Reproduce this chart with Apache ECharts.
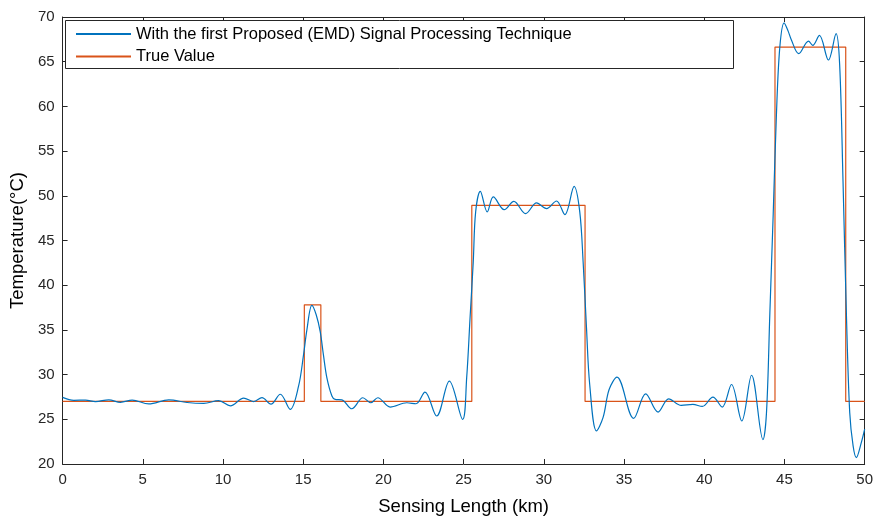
<!DOCTYPE html>
<html>
<head>
<meta charset="utf-8">
<script src="https://cdn.jsdelivr.net/npm/echarts@6/dist/echarts.min.js"></script>
<style>
  html, body { margin: 0; padding: 0; background: #fff; }
  #chart { width: 876px; height: 521px; }
</style>
</head>
<body>
<div id="chart"></div>
<script>
// Distance along the fibre (km) and recovered temperature after EMD processing
const blueKm = [0, 0.70, 1.43, 2.05, 2.88, 3.61, 4.34, 5.37, 6.62, 7.76, 8.80, 9.73, 10.46, 11.29, 11.91, 12.43, 12.99, 13.57, 14.19, 14.71, 15.02, 15.23, 15.54, 15.81, 16.06, 16.26, 16.48, 16.79, 16.99, 17.41, 18.03, 18.72, 19.21, 19.65, 20.42, 21.46, 22.03, 22.59, 23.32, 24.11, 24.94, 25.19, 25.40, 25.60, 25.75, 26.04, 26.47, 26.85, 27.53, 28.13, 28.86, 29.55, 30.17, 30.79, 31.31, 31.89, 32.24, 32.45, 32.66, 32.86, 33.28, 33.69, 34.07, 34.56, 35.60, 36.35, 37.12, 37.78, 38.57, 39.29, 39.88, 40.54, 41.12, 41.70, 42.34, 42.95, 43.66, 43.88, 44.09, 44.30, 44.50, 44.71, 44.98, 45.23, 45.42, 45.89, 46.50, 46.76, 47.18, 47.74, 48.22, 48.44, 48.65, 48.86, 49.07, 49.28, 49.48, 49.79, 50.0];
const blueTemp = [27.45, 27.12, 27.15, 26.98, 27.18, 26.90, 27.15, 26.72, 27.18, 26.88, 26.78, 27.08, 26.50, 27.37, 26.98, 27.42, 26.70, 27.80, 26.12, 28.70, 32.20, 35.00, 37.75, 36.70, 34.80, 32.20, 29.60, 27.60, 27.22, 27.18, 26.18, 27.41, 26.85, 27.41, 26.37, 26.85, 26.74, 28.04, 25.37, 29.27, 24.99, 29.63, 36.30, 42.60, 48.20, 50.49, 48.20, 49.87, 48.45, 49.38, 48.01, 49.20, 48.56, 49.42, 47.90, 51.05, 48.20, 42.60, 35.20, 28.90, 23.70, 25.18, 28.33, 29.71, 25.10, 27.85, 25.81, 27.29, 26.55, 26.66, 26.44, 27.48, 26.37, 28.89, 24.81, 29.93, 22.73, 25.73, 36.87, 48.00, 59.10, 66.60, 69.35, 68.42, 67.49, 65.90, 67.30, 66.83, 67.94, 65.19, 68.13, 64.71, 51.70, 36.87, 25.73, 22.03, 20.72, 22.39, 23.90];

// True temperature profile: level changes at each breakpoint
const trueKm = [0, 15.07, 16.10, 25.51, 32.57, 44.41, 48.82, 50];
const trueTemp = [27, 37.8, 27, 48.93, 27, 66.64, 27, 27];

// Axis tick values
const xTicks = [0, 5, 10, 15, 20, 25, 30, 35, 40, 45, 50];
const yTicks = [20, 25, 30, 35, 40, 45, 50, 55, 60, 65, 70];

const seriesNames = ['With the first Proposed (EMD) Signal Processing Technique', 'True Value'];

const blueData = blueKm.map((x, i) => [x, blueTemp[i]]);
const trueData = trueKm.map((x, i) => [x, trueTemp[i]]);

const axisColor = '#262626';
const font = 'Liberation Sans, Arial, Helvetica, sans-serif';

const chart = echarts.init(document.getElementById('chart'), null, { renderer: 'canvas' });

const xBase = {
  type: 'value',
  min: xTicks[0],
  max: xTicks[xTicks.length - 1],
  interval: xTicks[1] - xTicks[0],
  splitLine: { show: false },
  axisLine: { show: true, onZero: false, lineStyle: { color: axisColor, width: 1 } },
  axisTick: { show: true, inside: true, length: 5, lineStyle: { color: axisColor } }
};
const yBase = {
  type: 'value',
  min: yTicks[0],
  max: yTicks[yTicks.length - 1],
  interval: yTicks[1] - yTicks[0],
  splitLine: { show: false },
  axisLine: { show: true, onZero: false, lineStyle: { color: axisColor, width: 1 } },
  axisTick: { show: true, inside: true, length: 5, lineStyle: { color: axisColor } }
};

chart.setOption({
  animation: false,
  backgroundColor: '#fff',
  grid: { left: 62, right: 11, top: 17, bottom: 54, containLabel: false },
  xAxis: [
    Object.assign({}, xBase, {
      position: 'bottom',
      name: 'Sensing Length (km)',
      nameLocation: 'middle',
      nameGap: 33,
      nameTextStyle: { fontFamily: font, fontSize: 18.5, color: '#000' },
      axisLabel: { fontFamily: font, fontSize: 15, color: '#262626', margin: 8 }
    }),
    Object.assign({}, xBase, {
      position: 'top',
      axisLabel: { show: false }
    })
  ],
  yAxis: [
    Object.assign({}, yBase, {
      position: 'left',
      name: 'Temperature(°C)',
      nameLocation: 'middle',
      nameGap: 35,
      nameRotate: 90,
      nameTextStyle: { fontFamily: font, fontSize: 18.5, color: '#000' },
      axisLabel: { fontFamily: font, fontSize: 15, color: '#262626', margin: 8 }
    }),
    Object.assign({}, yBase, {
      position: 'right',
      axisLabel: { show: false }
    })
  ],
  graphic: [{
    type: 'rect',
    shape: { x: 65.5, y: 20.5, width: 668, height: 48 },
    style: { fill: '#fff', stroke: axisColor, lineWidth: 1 },
    z: 3
  }],
  legend: {
    orient: 'vertical',
    left: 75,
    top: 25,
    padding: 0,
    itemWidth: 55,
    itemHeight: 18,
    itemGap: 4.5,
    itemStyle: { color: 'rgba(0,0,0,0)', borderColor: 'rgba(0,0,0,0)', borderWidth: 0 },
    textStyle: { fontFamily: font, fontSize: 16.5, color: '#000', lineHeight: 18 },
    data: seriesNames,
    z: 5
  },
  series: [
    {
      name: seriesNames[0],
      type: 'line',
      data: blueData,
      smooth: 0.35,
      symbol: 'none',
      lineStyle: { color: '#0072BD', width: 1.2 },
      itemStyle: { color: '#0072BD' },
      z: 3
    },
    {
      name: seriesNames[1],
      type: 'line',
      data: trueData,
      step: 'end',
      symbol: 'none',
      lineStyle: { color: '#D95319', width: 1.2 },
      itemStyle: { color: '#D95319' },
      z: 2
    }
  ]
});
</script>
</body>
</html>
